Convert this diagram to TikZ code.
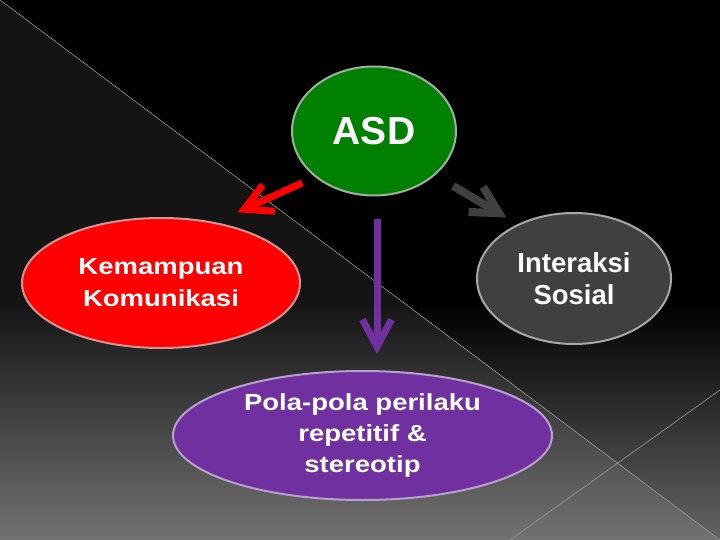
\documentclass[tikz,border=0pt]{standalone}
\usepackage{fontspec}
\setmainfont{Liberation Sans}
\newfontfamily\widefont[FakeStretch=1.18]{Liberation Sans}
\usepackage{tikz}
\usetikzlibrary{shapes.geometric}
\usetikzlibrary{arrows.meta}
\definecolor{asdgreen}{HTML}{008000}
\definecolor{komred}{HTML}{FF0000}
\definecolor{socgray}{HTML}{404040}
\definecolor{patpurple}{HTML}{7030A0}
\definecolor{bgright}{HTML}{646464}
\definecolor{bgleft}{HTML}{727272}
\definecolor{bgdark}{HTML}{141414}
\pgfdeclareverticalshading{backdrop}{100bp}{color(0bp)=(bgright); color(25bp)=(bgright); color(47bp)=(black); color(100bp)=(black)}
\pgfdeclareverticalshading{backdropleft}{100bp}{color(0bp)=(bgleft); color(25bp)=(bgleft); color(47bp)=(bgdark); color(100bp)=(bgdark)}
\tikzstyle{blob}=[ellipse, line width=2pt, inner sep=0pt, text=white, align=center]
\tikzstyle{asdblob}=[blob, fill=asdgreen, draw={rgb,255:red,160;green,176;blue,160}, font=\bfseries\fontsize{39}{45}\selectfont]
\tikzstyle{komblob}=[blob, fill=komred, draw={rgb,255:red,208;green,150;blue,150}, font=\widefont\bfseries\fontsize{23.3}{32}\selectfont]
\tikzstyle{socblob}=[blob, fill=socgray, draw={rgb,255:red,168;green,168;blue,168}, font=\bfseries\fontsize{27.5}{32}\selectfont]
\tikzstyle{patblob}=[blob, fill=patpurple, draw={rgb,255:red,184;green,160;blue,204}, font=\widefont\bfseries\fontsize{23.3}{31}\selectfont]
\tikzstyle{link}=[line width=7pt, -{Straight Barb[length=27pt, width=29pt]}]
\tikzstyle{rule}=[line width=0.6pt, gray!80]

\begin{document}
\begin{tikzpicture}[x=1pt, y=-1pt]
        \useasboundingbox (0,0) rectangle (720,540);
        % backdrop
        \shade[shading=backdrop] (0,0) rectangle (720,540);
        \shade[shading=backdropleft] (0,0) -- (720,540) -- (0,540) -- cycle;
        \draw[rule] (0,0) -- (720,540);
        \draw[rule] (720,390) -- (510,540);
        % nodes
        \node[asdblob, minimum width=164pt, minimum height=129pt] (asd) at (374,131) {ASD};
        \node[komblob, minimum width=278pt, minimum height=130pt] (kom) at (161,283) {Kemampuan\\Komunikasi};
        \node[socblob, minimum width=194pt, minimum height=131pt] (soc) at (574,278.5) {Interaksi\\Sosial};
        \node[patblob, minimum width=379pt, minimum height=129pt] (pat) at (362.5,435.5) {Pola-pola perilaku\\repetitif \&\\stereotip};
        % arrows
        \draw[link, komred, shorten <=14pt, shorten >=24pt] (asd.218) -- (kom.48);
        \draw[link, socgray, line width=8pt, shorten <=21pt, shorten >=13pt] (asd.324) -- (soc.136);
        \draw[link, patpurple] ([xshift=3pt, yshift=-23pt]asd.south) -- ([xshift=14.5pt, yshift=16pt]pat.north);
    \end{tikzpicture}
\end{document}
